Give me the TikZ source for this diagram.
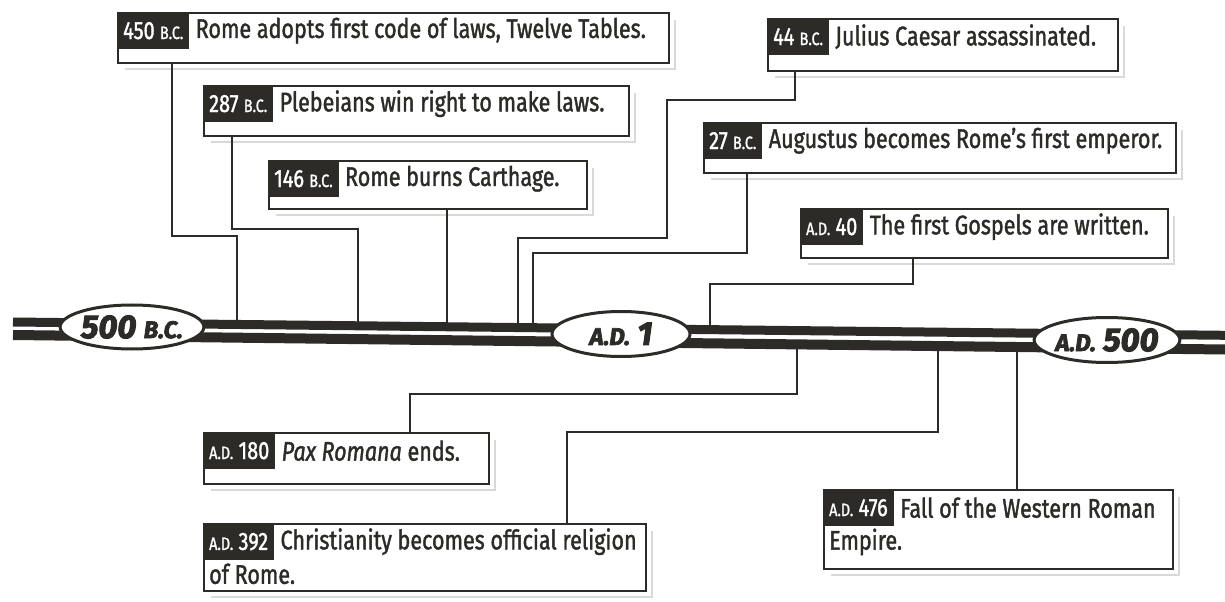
\documentclass[tikz,border=0pt]{standalone}
\usepackage{fontspec}
\setmainfont{Fira Sans}[FakeStretch=0.8, FakeBold=1.4]
\newfontfamily\ovfont{Fira Sans}[BoldItalicFeatures={FakeBold=3}]
\usetikzlibrary{shapes.geometric}
\definecolor{ink}{RGB}{45,43,40}
\newcommand{\sm}[1]{{\fontsize{18}{18}\selectfont #1}}
\newcommand{\ovsm}[1]{{\fontsize{24}{24}\selectfont #1}}
\tikzset{
  evbox/.style={draw=ink, line width=1.8bp, fill=white, inner sep=0pt, anchor=north west},
  datelbl/.style={fill=ink, text=white, anchor=north west, inner xsep=6bp, inner ysep=0pt,
    minimum height=37bp, font=\fontsize{25}{28}\selectfont},
  evtext/.style={anchor=west, inner xsep=6bp, inner ysep=0pt, text=ink, font=\fontsize{27}{30}\selectfont},
  link/.style={draw=ink, line width=1.8bp},
  shade/.style={draw=gray!30, line width=2bp},
  band/.style={draw=ink, line width=9bp},
  era/.style={ellipse, draw=ink, line width=3bp, fill=white, inner sep=0pt,
    minimum width=139bp, minimum height=44bp, text=ink,
    font=\ovfont\bfseries\itshape\fontsize{33}{33}\selectfont}
}

\begin{document}
\begin{tikzpicture}[x=1bp, y=-1bp]
\useasboundingbox (0,0) rectangle (1225,602);

% points on the time line
\coordinate (t450) at (237,324.5);
\coordinate (t287) at (358,325.8);
\coordinate (t146) at (447,326.8);
\coordinate (t44)  at (518,327.6);
\coordinate (t27)  at (533,327.7);
\coordinate (t40)  at (710,329.7);
\coordinate (t180) at (797,344.4);
\coordinate (t392) at (938,346.1);
\coordinate (t476) at (1017,347.0);

% event boxes above
\node[evbox, minimum width=551bp, minimum height=50bp] (b450) at (117,12) {};
\node[datelbl] (d450) at (b450.north west) {450 \sm{B.C.}};
\node[evtext] at (d450.east) {Rome adopts first code of laws, Twelve Tables.};

\node[evbox, minimum width=425bp, minimum height=50bp] (b287) at (203,85) {};
\node[datelbl] (d287) at (b287.north west) {287 \sm{B.C.}};
\node[evtext] at (d287.east) {Plebeians win right to make laws.};

\node[evbox, minimum width=318bp, minimum height=48bp] (b146) at (268,160) {};
\node[datelbl] (d146) at (b146.north west) {146 \sm{B.C.}};
\node[evtext] at (d146.east) {Rome burns Carthage.};

\node[evbox, minimum width=350bp, minimum height=52bp] (b44) at (767,18) {};
\node[datelbl] (d44) at (b44.north west) {44 \sm{B.C.}};
\node[evtext] at (d44.east) {Julius Caesar assassinated.};

\node[evbox, minimum width=472bp, minimum height=50bp] (b27) at (703,122) {};
\node[datelbl] (d27) at (b27.north west) {27 \sm{B.C.}};
\node[evtext] at (d27.east) {Augustus becomes Rome’s first emperor.};

\node[evbox, minimum width=367bp, minimum height=49bp] (b40) at (800,208) {};
\node[datelbl] (d40) at (b40.north west) {\sm{A.D.} 40};
\node[evtext] at (d40.east) {The first Gospels are written.};

% event boxes below
\node[evbox, minimum width=285bp, minimum height=51bp] (b180) at (203,432) {};
\node[datelbl] (d180) at (b180.north west) {\sm{A.D.} 180};
\node[evtext] at (d180.east) {\textit{Pax Romana} ends.};

\node[evbox, minimum width=442bp, minimum height=67bp] (b392) at (203,523) {};
\node[datelbl] (d392) at (b392.north west) {\sm{A.D.} 392};
\node[evtext] at (d392.east) {Christianity becomes official religion};
\node[evtext, anchor=north west, yshift=-3bp] at (d392.south west) {of Rome.};

\node[evbox, minimum width=349bp, minimum height=79bp] (b476) at (823,489) {};
\node[datelbl] (d476) at (b476.north west) {\sm{A.D.} 476};
\node[evtext] at (d476.east) {Fall of the Western Roman};
\node[evtext, anchor=north west, yshift=-2bp] at (d476.south west) {Empire.};

% shadows
\foreach \b in {b450,b287,b146,b44,b27,b40,b180,b392,b476}
  \draw[shade] ([xshift=5bp,yshift=-8bp]\b.north east) |- ([xshift=8bp,yshift=-5bp]\b.south west);

% connectors
\draw[link] (b450.south -| 172,0) -- (172,236) -| (t450);
\draw[link] (b287.south -| 232,0) -- (232,229) -| (t287);
\draw[link] (b146.south -| 447,0) -- (t146);
\draw[link] (b44.south -| 795,0) -- (795,100) -- (667,100) -- (667,238) -| (t44);
\draw[link] (b27.south -| 747,0) -- (747,253) -| (t27);
\draw[link] (b40.south -| 913,0) -- (913,284) -| (t40);
\draw[link] (t180) -- (797,394) -| (b180.north -| 410,0);
\draw[link] (t392) -- (938,432) -| (b392.north -| 567,0);
\draw[link] (t476) -- (b476.north -| 1017,0);

% time line
\draw[band] (13,322) -- (1225,335.3);
\draw[band, line width=10bp] (13,335) -- (1225,349.5);

\node[era] (e500bc) at (132,327) {500 \ovsm{B.C.}};
\node[era, minimum width=138bp, minimum height=45bp] (e1ad) at (621,334) {\ovsm{A.D.} 1};
\node[era, minimum height=45bp] (e500ad) at (1107,340) {\ovsm{A.D.} 500};
\end{tikzpicture}
\end{document}
